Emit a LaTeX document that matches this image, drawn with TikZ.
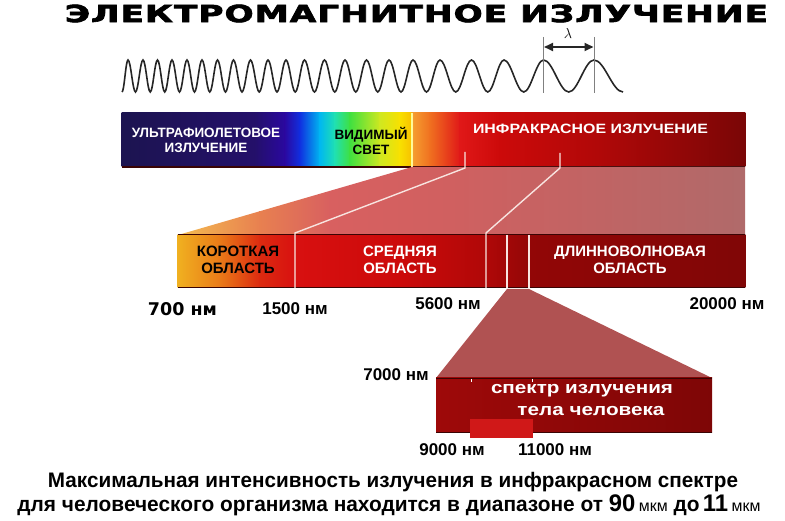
\documentclass[tikz,border=0pt]{standalone}
\usepackage{fontspec}
\setmainfont{Liberation Sans}
\newfontfamily\titlefont[LetterSpace=3,BoldFeatures={FakeBold=2.5}]{DejaVu Sans}
\newfontfamily\heavyfont{DejaVu Sans}
\usetikzlibrary{arrows.meta}
\definecolor{uvA}{HTML}{1C1450}
\definecolor{uvB}{HTML}{24106A}
\definecolor{uvC}{HTML}{2A08A0}
\definecolor{blu}{HTML}{1030E0}
\definecolor{cya}{HTML}{00B8F0}
\definecolor{tea}{HTML}{20E0B0}
\definecolor{gre}{HTML}{40E040}
\definecolor{ylg}{HTML}{D0E820}
\definecolor{yel}{HTML}{F8E000}
\definecolor{yeo}{HTML}{F8C000}
\definecolor{ora}{HTML}{F5A030}
\definecolor{orr}{HTML}{F07020}
\definecolor{rd1}{HTML}{E01818}
\definecolor{rd2}{HTML}{CC0A0A}
\definecolor{rd3}{HTML}{B00808}
\definecolor{rd4}{HTML}{7A0606}
\definecolor{wA}{HTML}{F4BC50}
\definecolor{wB}{HTML}{E88050}
\definecolor{wC}{HTML}{D86060}
\definecolor{wD}{HTML}{D06060}
\definecolor{wE}{HTML}{C06464}
\definecolor{wF}{HTML}{B06A6A}
\definecolor{bA}{HTML}{F0B020}
\definecolor{bB}{HTML}{EA7A18}
\definecolor{bC}{HTML}{DC2A10}
\definecolor{bD}{HTML}{D81010}
\definecolor{bE}{HTML}{CC0A0A}
\definecolor{bF}{HTML}{B00808}
\definecolor{bG}{HTML}{920606}
\definecolor{bH}{HTML}{800606}
\definecolor{wedgeB}{HTML}{B05252}
\definecolor{cA}{HTML}{9E0909}
\definecolor{cB}{HTML}{7E0606}
\definecolor{hot}{HTML}{D01818}
\definecolor{tick}{HTML}{F8E4E0}
\definecolor{edge}{HTML}{3A0404}
\begin{document}
\begin{tikzpicture}[x=1pt,y=-1pt,
  txt/.style={inner sep=0pt, align=center},
  barfont/.style={font=\fontsize{13.5}{15}\selectfont\bfseries},
  midfont/.style={font=\fontsize{15}{16.5}\selectfont\bfseries},
  nmfont/.style={font=\fontsize{17}{18}\selectfont\bfseries},
  wave/.style={line width=1.6pt, black!85},
  whiteline/.style={draw=tick, line width=1.4pt},
  guide/.style={draw=black!50, line width=0.8pt}]
\useasboundingbox (0,0) rectangle (785,521);

% title
\node[txt] (title) at (416.5,13.5) {\resizebox{703pt}{17.5pt}{\titlefont\bfseries ЭЛЕКТРОМАГНИТНОЕ ИЗЛУЧЕНИЕ}};

% wave
\draw[wave] (122,92) \foreach \xa/\ya/\xb/\yb in {122/92/128/60, 128/60/135.5/92, 135.5/92/143/60, 143/60/150.25/92, 150.25/92/157.5/60, 157.5/60/164.75/92, 164.75/92/172/60, 172/60/179.5/92, 179.5/92/187/60, 187/60/194.5/92, 194.5/92/202/60, 202/60/209.75/92, 209.75/92/217.5/60, 217.5/60/225.5/92, 225.5/92/233.5/60, 233.5/60/242/92, 242/92/250.5/60, 250.5/60/259.25/92, 259.25/92/268/60, 268/60/277/92, 277/92/286/60, 286/60/295.25/92, 295.25/92/304.5/60, 304.5/60/314.5/92, 314.5/92/324.5/60, 324.5/60/334.75/92, 334.75/92/345/60, 345/60/355.75/92, 355.75/92/366.5/60, 366.5/60/377.75/92, 377.75/92/389/60, 389/60/401/92, 401/92/413/60, 413/60/426.5/92, 426.5/92/440/60, 440/60/455.75/92, 455.75/92/471.5/60, 471.5/60/487.75/92, 487.75/92/504/60, 504/60/523.75/92, 523.75/92/543.5/60, 543.5/60/568.75/92, 568.75/92/594/60, 594/60/623/92}
  { .. controls ({\xa+0.3634*(\xb-\xa)},\ya) and ({\xb-0.3634*(\xb-\xa)},\yb) .. (\xb,\yb) };

% lambda marker
\coordinate (gl1) at (543.5,37); \coordinate (gl2) at (543.5,93);
\coordinate (gr1) at (594,37);   \coordinate (gr2) at (594,93);
\draw[guide] (gl1) -- (gl2);
\draw[guide] (gr1) -- (gr2);
\coordinate (lamL) at (544,47); \coordinate (lamR) at (593.5,47);
\draw[line width=2pt, black!85, {Triangle[length=9pt,width=8pt]}-{Triangle[length=9pt,width=8pt]}] (lamL) -- (lamR);
\node[txt, font=\fontsize{15}{15}\selectfont] (lam) at (568,34) {$\lambda$};

% main spectrum bar
\foreach \xa/\ca/\xb/\cb in {122/uvA/255/uvB, 255/uvB/285/uvC, 285/uvC/300/blu, 300/blu/320/cya, 320/cya/335/tea, 335/tea/350/gre, 350/gre/380/ylg, 380/ylg/400/yel, 400/yel/412/yeo, 412/ora/430/orr, 430/orr/460/rd1, 460/rd1/500/rd2, 500/rd2/600/rd3, 600/rd3/745/rd4}
  \shade[left color=\ca, right color=\cb] (\xa-0.3,113) rectangle (\xb+0.3,167);
\draw[edge, line width=1.2pt] (122,167) -- (745,167);
\coordinate (visTop) at (412,113); \coordinate (visBot) at (412,167);
\draw[draw=yellow!40!white, line width=1.2pt] (visTop) -- (visBot);

% wedge 1
\coordinate (w1a) at (412,167); \coordinate (w1b) at (745,167);
\coordinate (w1c) at (745,235); \coordinate (w1d) at (178,235);
\begin{scope}
\clip (w1a) -- (w1b) -- (w1c) -- (w1d) -- cycle;
\foreach \xa/\ca/\xb/\cb in {178/wA/260/wB, 260/wB/330/wC, 330/wC/450/wD, 450/wD/600/wE, 600/wE/745/wF}
  \shade[left color=\ca, right color=\cb] (\xa-0.3,166) rectangle (\xb+0.3,236);
\end{scope}

% second bar
\foreach \xa/\ca/\xb/\cb in {178/bA/220/bB, 220/bB/260/bC, 260/bC/295/bD, 295/bD/400/bE, 400/bE/486/bF, 486/bF/530/bG, 530/bG/745/bH}
  \shade[left color=\ca, right color=\cb] (\xa-0.3,235) rectangle (\xb+0.3,288);
\draw[edge, line width=1pt] (178,235) -- (745,235);
\draw[edge, line width=1pt] (178,288) -- (745,288);

% white connector lines
\coordinate (t1a) at (465,152); \coordinate (t1b) at (465,168);
\coordinate (t1c) at (295,233); \coordinate (t1d) at (295,288);
\coordinate (t2a) at (560,153); \coordinate (t2b) at (560,168);
\coordinate (t2c) at (486,233); \coordinate (t2d) at (486,288);
\draw[whiteline] (t1a) -- (t1b) -- (t1c) -- (t1d);
\draw[whiteline] (t2a) -- (t2b) -- (t2c) -- (t2d);
\coordinate (s1a) at (507,235); \coordinate (s1b) at (507,288);
\coordinate (s2a) at (529,235); \coordinate (s2b) at (529,288);
\draw[whiteline] (s1a) -- (s1b);
\draw[whiteline] (s2a) -- (s2b);

% wedge 2
\coordinate (w2a) at (507,289); \coordinate (w2b) at (529,289);
\coordinate (w2c) at (712,378); \coordinate (w2d) at (436,378);
\fill[wedgeB] (w2a) -- (w2b) -- (w2c) -- (w2d) -- cycle;

% third bar
\shade[left color=cA, right color=cB] (436,378) rectangle (712,432);
\draw[edge, line width=1pt] (436,378.5) -- (712,378.5);
\draw[edge, line width=1pt] (436,432) -- (712,432);
\draw[white, line width=0.8pt] (471,379) -- (471,382);
\draw[white, line width=0.8pt] (532,379) -- (532,382);
\fill[hot] (470,419) rectangle (533,438);

% texts on main bar
\node[txt, barfont, white] (uv) at (206,140.5) {УЛЬТРАФИОЛЕТОВОЕ\\ИЗЛУЧЕНИЕ};
\node[txt, barfont, black] (vis) at (371,140.5) {ВИДИМЫЙ\\СВЕТ};
\node[txt, barfont, white] (ir) at (590.5,129) {\resizebox{235pt}{\height}{ИНФРАКРАСНОЕ ИЗЛУЧЕНИЕ}};

% texts on second bar
\node[txt, midfont, black] (short) at (238,260) {КОРОТКАЯ\\ОБЛАСТЬ};
\node[txt, midfont, white] (mid) at (400,260) {СРЕДНЯЯ\\ОБЛАСТЬ};
\node[txt, midfont, white] (long) at (630,260) {ДЛИННОВОЛНОВАЯ\\ОБЛАСТЬ};

% wavelength labels
\node[txt, font=\fontsize{17.5}{18}\heavyfont\bfseries] (n700) at (182.5,309) {700 нм};
\node[txt, nmfont] (n1500) at (295,309) {1500 нм};
\node[txt, nmfont] (n5600) at (448,304) {5600 нм};
\node[txt, nmfont] (n20000) at (727,304) {20000 нм};
\node[txt, nmfont] (n7000) at (396,375) {7000 нм};
\node[txt, nmfont] (n9000) at (452,450) {9000 нм};
\node[txt, nmfont] (n11000) at (555,450) {11000 нм};

% body spectrum text
\node[txt, white, font=\fontsize{17}{19}\selectfont\bfseries] (body1) at (582,391) {\resizebox{182pt}{\height}{спектр излучения}};
\node[txt, white, font=\fontsize{17}{19}\selectfont\bfseries] (body2) at (591,411) {\resizebox{147pt}{\height}{тела человека}};

% bottom caption
\node[txt, font=\fontsize{21}{23}\selectfont\bfseries] (cap1) at (393,482) {\resizebox{690pt}{\height}{Максимальная интенсивность излучения в инфракрасном спектре}};
\node[txt, font=\fontsize{21}{23}\selectfont\bfseries] (cap2) at (389,505) {\resizebox{743pt}{\height}{для человеческого организма находится в диапазоне от {\fontsize{24}{24}\selectfont 90}\,{\mdseries\fontsize{16}{16}\selectfont мкм} до\,{\fontsize{24}{24}\selectfont 11}\,{\mdseries\fontsize{16}{16}\selectfont мкм}}};
\end{tikzpicture}
\end{document}
